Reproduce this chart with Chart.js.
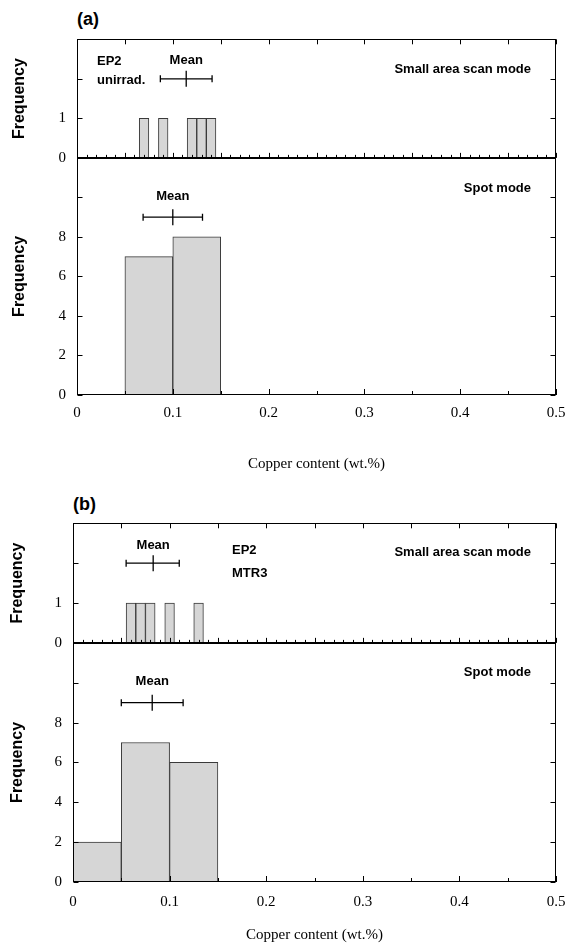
<!DOCTYPE html>
<html lang="en">
<head>
<meta charset="UTF-8">
<title>Copper content histograms</title>
<script src="https://cdn.jsdelivr.net/npm/chart.js"></script>
<style>
  body { margin: 0; background: #fff; width: 566px; height: 943px; overflow: hidden; position: relative; }
  .tag { position: absolute; font: bold 18px "Liberation Sans", Arial, sans-serif; color: #000; }
  canvas { position: absolute; left: 0; }
</style>
</head>
<body>
<div class="tag" style="left:77px;top:9px">(a)</div>
<canvas id="figA" width="566" height="450" style="top:30px"></canvas>
<div class="tag" style="left:73px;top:494px">(b)</div>
<canvas id="figB" width="566" height="429" style="top:514px"></canvas>

<script>
// tick labels
const xTickLabels = ['0', '0.1', '0.2', '0.3', '0.4', '0.5'];
const scanYLabels = ['0', '1'];
const spotYLabels = ['0', '2', '4', '6', '8'];

// (a) EP2 unirrad. - bin centres (wt.%) and counts
const aScanCu = [0.07, 0.09, 0.12, 0.13, 0.14];
const aScanFreq = [1, 1, 1, 1, 1];
const aScanMean = [0.087, 0.114, 0.141];   // low, mean, high
const aSpotCu = [0.075, 0.125];
const aSpotFreq = [7, 8];
const aSpotMean = [0.069, 0.100, 0.131];

// (b) EP2 MTR3
const bScanCu = [0.06, 0.07, 0.08, 0.10, 0.13];
const bScanFreq = [1, 1, 1, 1, 1];
const bScanMean = [0.055, 0.083, 0.110];
const bSpotCu = [0.025, 0.075, 0.125];
const bSpotFreq = [2, 7, 6];
const bSpotMean = [0.050, 0.082, 0.114];

const scanMeanY = 2;
const spotMeanY = 9;
const minorStep = 0.01;

const SANS = '"Liberation Sans", Arial, sans-serif';
const SERIF = '"Liberation Serif", "Times New Roman", serif';

function labelFor(list, v) {
  const s = String(Math.round(v * 100) / 100);
  return list.includes(s) ? s : '';
}

function bars(xs, ys, xId, yId) {
  return {
    type: 'bar',
    data: xs.map((x, i) => ({ x, y: ys[i] })),
    xAxisID: xId, yAxisID: yId,
    backgroundColor: '#d6d6d6',
    borderColor: '#3a3a3a',
    borderWidth: 1,
    borderSkipped: false,
    grouped: false,
    barPercentage: 1,
    categoryPercentage: 1
  };
}

function meanSets(m, y, xId, yId) {
  return [{
    type: 'line',
    data: [{ x: m[0], y }, { x: m[2], y }],
    xAxisID: xId, yAxisID: yId,
    borderColor: '#000', borderWidth: 1.3,
    pointStyle: 'line', pointRotation: 90, pointRadius: 3.5,
    pointBorderColor: '#000', pointBorderWidth: 1.3, fill: false
  }, {
    type: 'line',
    data: [{ x: m[1], y }],
    xAxisID: xId, yAxisID: yId,
    showLine: false,
    pointStyle: 'line', pointRotation: 90, pointRadius: 8,
    pointBorderColor: '#000', pointBorderWidth: 1.3
  }];
}

const decoPlugin = {
  id: 'deco',
  afterDraw(chart, args, opts) {
    const ctx = chart.ctx;
    const x = chart.scales.x, yt = chart.scales.yTop, yb = chart.scales.yBot;
    const L = Math.round(chart.chartArea.left) + 0.5;
    const R = Math.round(chart.chartArea.right) - 0.5;
    const px = v => Math.round(x.getPixelForValue(v)) + 0.5;
    const near = (v, step) => Math.abs(v / step - Math.round(v / step)) < 1e-6;
    ctx.save();
    ctx.strokeStyle = '#000';
    ctx.lineWidth = 1;
    // panel frames
    [yt, yb].forEach(s => {
      const t = Math.round(s.top) + 0.5, b = Math.round(s.bottom) - 0.5;
      ctx.strokeRect(L, t, R - L, b - t);
    });
    ctx.beginPath();
    // y ticks, inside on both sides
    [yt, yb].forEach(s => {
      s.ticks.forEach(t => {
        const p = Math.round(s.getPixelForValue(t.value)) + 0.5;
        ctx.moveTo(L, p); ctx.lineTo(L + 5, p);
        ctx.moveTo(R, p); ctx.lineTo(R - 5, p);
      });
    });
    // top edge of upper panel
    x.ticks.forEach(t => {
      const p = px(t.value);
      ctx.moveTo(p, yt.top); ctx.lineTo(p, yt.top + 5);
    });
    // minor ticks on the bottom edge of upper panel
    for (let v = x.min; v <= x.max + 1e-9; v += minorStep) {
      const p = px(v), len = near(v, 0.05) ? 5 : 3;
      ctx.moveTo(p, yt.bottom); ctx.lineTo(p, yt.bottom - len);
    }
    // bottom edge of lower panel
    x.ticks.forEach(t => {
      const p = px(t.value), len = near(t.value, 0.1) ? 6 : 4;
      ctx.moveTo(p, yb.bottom); ctx.lineTo(p, yb.bottom - len);
    });
    ctx.stroke();

    // text notes
    ctx.fillStyle = '#000';
    ctx.font = 'bold 13px ' + SANS;
    ctx.textBaseline = 'middle';
    (opts.notes || []).forEach(n => {
      const s = n.panel === 'top' ? yt : yb;
      ctx.textAlign = n.align;
      const tx = n.align === 'left' ? chart.chartArea.left + n.dx : chart.chartArea.right - n.dx;
      ctx.fillText(n.text, tx, s.top + n.dy);
    });
    // "Mean" labels above each mean marker
    ctx.textAlign = 'center';
    (opts.means || []).forEach(m => {
      const xs = chart.scales[m.xId], ys = chart.scales[m.yId];
      ctx.fillText('Mean', xs.getPixelForValue(m.value[1]), ys.getPixelForValue(m.y) - m.lift);
    });
    ctx.restore();
  }
};

function makeFigure(id, d, box) {
  const serif = { family: SERIF, size: 15 };
  const yTitle = {
    display: true, text: 'Frequency', color: '#000',
    font: { family: SANS, size: 16, weight: 'bold' },
    padding: { top: box.yTitlePad, bottom: 0 }
  };
  return new Chart(document.getElementById(id), {
    type: 'bar',
    data: {
      datasets: [
        bars(d.scanCu, d.scanFreq, 'x2', 'yTop'),
        bars(d.spotCu, d.spotFreq, 'x', 'yBot'),
        ...meanSets(d.scanMean, scanMeanY, 'x2', 'yTop'),
        ...meanSets(d.spotMean, spotMeanY, 'x', 'yBot')
      ]
    },
    options: {
      responsive: false,
      animation: false,
      events: [],
      layout: { padding: { top: box.padTop, right: box.padRight, left: 0, bottom: 0 } },
      plugins: {
        legend: { display: false },
        tooltip: { enabled: false },
        deco: {
          notes: d.notes,
          means: [
            { value: d.scanMean, y: scanMeanY, xId: 'x2', yId: 'yTop', lift: 18 },
            { value: d.spotMean, y: spotMeanY, xId: 'x', yId: 'yBot', lift: 21 }
          ]
        }
      },
      scales: {
        x: {
          type: 'linear', position: 'bottom', min: 0, max: 0.5, offset: false,
          grid: { display: false, drawTicks: false, offset: false },
          border: { display: false },
          ticks: {
            stepSize: 0.05, autoSkip: false, maxRotation: 0, color: '#000',
            padding: box.xLabelPad, font: serif,
            callback: v => labelFor(xTickLabels, v)
          },
          title: {
            display: true, text: 'Copper content (wt.%)', color: '#000',
            font: { family: SERIF, size: 15, lineHeight: 1 },
            padding: { top: 0, bottom: box.xTitlePad }
          },
          afterFit: s => { s.height = box.xAxisH; s.paddingLeft = 0; s.paddingRight = 0; }
        },
        x2: { type: 'linear', display: false, min: 0, max: 0.5, offset: false, grid: { offset: false } },
        yBot: {
          type: 'linear', position: 'left', stack: 'fig', stackWeight: 2,
          min: 0, max: 12,
          grid: { display: false, drawTicks: false },
          border: { display: false },
          ticks: { stepSize: 2, padding: box.yLabelPad, color: '#000', font: serif,
                   callback: v => labelFor(spotYLabels, v) },
          title: yTitle,
          afterFit: s => { s.width = box.left; s.paddingTop = 0; s.paddingBottom = 0; }
        },
        yTop: {
          type: 'linear', position: 'left', stack: 'fig', stackWeight: 1,
          min: 0, max: 3,
          grid: { display: false, drawTicks: false },
          border: { display: false },
          ticks: { stepSize: 1, padding: box.yLabelPad, color: '#000', font: serif,
                   callback: v => labelFor(scanYLabels, v) },
          title: yTitle,
          afterFit: s => { s.width = box.left; s.paddingTop = 0; s.paddingBottom = 0; }
        }
      }
    },
    plugins: [decoPlugin]
  });
}

makeFigure('figA', {
  scanCu: aScanCu, scanFreq: aScanFreq, scanMean: aScanMean,
  spotCu: aSpotCu, spotFreq: aSpotFreq, spotMean: aSpotMean,
  notes: [
    { text: 'EP2', panel: 'top', align: 'left', dx: 20, dy: 22 },
    { text: 'unirrad.', panel: 'top', align: 'left', dx: 20, dy: 41 },
    { text: 'Small area scan mode', panel: 'top', align: 'right', dx: 25, dy: 30 },
    { text: 'Spot mode', panel: 'bot', align: 'right', dx: 25, dy: 31 }
  ]
}, { left: 77, padTop: 6, padRight: 10, xAxisH: 85, xLabelPad: 9, xTitlePad: 8, yLabelPad: 11, yTitlePad: 10 });

makeFigure('figB', {
  scanCu: bScanCu, scanFreq: bScanFreq, scanMean: bScanMean,
  spotCu: bSpotCu, spotFreq: bSpotFreq, spotMean: bSpotMean,
  notes: [
    { text: 'EP2', panel: 'top', align: 'left', dx: 159, dy: 27 },
    { text: 'MTR3', panel: 'top', align: 'left', dx: 159, dy: 50 },
    { text: 'Small area scan mode', panel: 'top', align: 'right', dx: 25, dy: 29 },
    { text: 'Spot mode', panel: 'bot', align: 'right', dx: 25, dy: 30 }
  ]
}, { left: 73, padTop: 8, padRight: 10, xAxisH: 61, xLabelPad: 11, xTitlePad: 0, yLabelPad: 11, yTitlePad: 8 });
</script>
</body>
</html>
